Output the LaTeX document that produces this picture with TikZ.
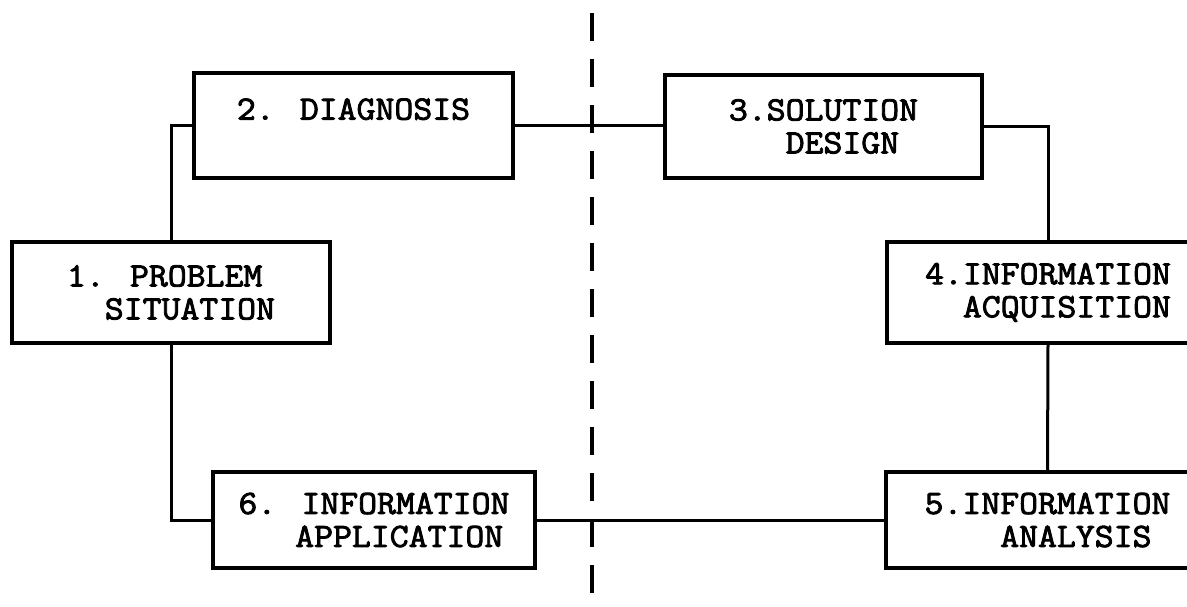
\documentclass[tikz,border=0pt]{standalone}
\usepackage{fontspec}
\newfontfamily\boxfont{Latin Modern Mono}[FakeBold=2.5, FakeStretch=1.08]
\begin{document}
\begin{tikzpicture}[x=1pt,y=-1pt,
  box/.style={draw, line width=3.5pt, rectangle, inner sep=0pt,
    font=\boxfont\fontsize{34}{33}\selectfont, align=left},
  link/.style={line width=3pt},
  divider/.style={line width=4.5pt, dash pattern=on 28pt off 18pt, dash phase=33pt}]
\useasboundingbox (0,0) rectangle (1187,606);
\node[box, minimum width=318pt, minimum height=101pt] (b1) at (171,292.5)
  {1. PROBLEM\\\phantom{00}SITUATION};
\node[box, minimum width=319pt, minimum height=105pt] (b2) at (353.5,125.5)
  {2. DIAGNOSIS\\\mbox{}};
\node[box, minimum width=317pt, minimum height=103pt] (b3) at (823.5,126.5)
  {3.SOLUTION\\\phantom{000}DESIGN};
\node[box, minimum width=322pt, minimum height=101pt] (b4) at (1048,292.5)
  {4.INFORMATION\\\phantom{00}ACQUISITION};
\node[box, minimum width=323pt, minimum height=96pt] (b5) at (1047.5,520)
  {5.INFORMATION\\\phantom{0000}ANALYSIS};
\node[box, minimum width=322pt, minimum height=96pt] (b6) at (374,520)
  {6. INFORMATION\\\phantom{000}APPLICATION};
\draw[link] (b1.north) |- (b2.west);
\draw[link] (b2.east) -- (b2.east -| b3.west);
\draw[link] (b3.east) -| (b4.north);
\draw[link] (b4.south) -- (b5.north);
\draw[link] (b5.west) -- (b6.east);
\draw[link] (b6.west) -| (b1.south);
\coordinate (dtop) at (592,0);
\coordinate (dbot) at (592,606);
\draw[divider] (dtop) -- (dbot);
\end{tikzpicture}
\end{document}
